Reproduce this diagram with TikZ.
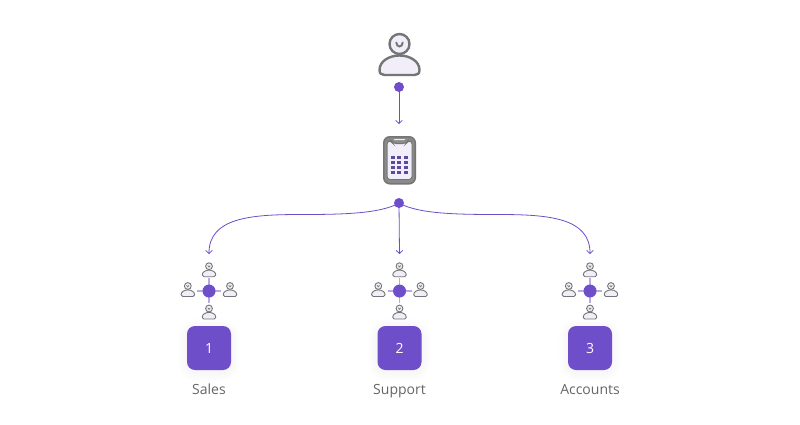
\documentclass[tikz,border=0pt]{standalone}
\usepackage{fontspec}
\setmainfont{Open Sans}
\usetikzlibrary{arrows.meta}
\definecolor{brand}{HTML}{6E4FC9}
\definecolor{spoke}{HTML}{B9A9E6}
\definecolor{iconline}{HTML}{757575}
\definecolor{iconband}{HTML}{8C8C8C}
\definecolor{iconfill}{HTML}{F1EEF9}
\definecolor{keys}{HTML}{5B4A9E}
\definecolor{labelgray}{HTML}{666666}
\tikzset{
  x=1pt,y=-1pt,
  dotnode/.style={circle,fill=brand,draw=none,inner sep=0pt,minimum size=#1},
  link/.style={draw=brand,line width=0.8pt,-{Straight Barb[length=3pt,width=6.5pt,line width=0.8pt]}},
  spokeline/.style={draw=spoke,line width=1.2pt},
  squarebox/.style={fill=brand,rounded corners=8pt,minimum size=44pt,inner sep=0pt,text=white,font=\fontsize{14}{16}\selectfont},
  caption/.style={text=labelgray,font=\fontsize{14}{16}\selectfont,inner sep=0pt,anchor=base},
  person/.pic={
    \path[draw=iconline,fill=iconfill,line width=#1,line join=round]
      (-20,26) .. controls (-20,17) and (-10,11.5) .. (0,11.5)
      .. controls (10,11.5) and (20,17) .. (20,26)
      .. controls (20,29.5) and (18,31) .. (15,31) -- (-15,31)
      .. controls (-18,31) and (-20,29.5) .. cycle;
    \path[draw=iconline,fill=iconfill,line width=#1] (0,0) circle (10);
    \path[draw=iconline,line width=#1*0.8,line cap=round]
      (-3.2,-1.5) .. controls (-3,3.8) and (3,3.8) .. (3.2,-1.5);
  }
}
\newcommand{\softshadow}[2]{%
  \foreach \g in {1,...,8}{
    \fill[brand,opacity=0.004,rounded corners=8pt+\g*1.5pt]
      (#1-22-\g*1.2,#2-22-\g*1.2+2) rectangle (#1+22+\g*1.2,#2+22+\g*1.2+2);
  }}
\newcommand{\cluster}[4]{%
  % #1 prefix, #2 x, #3 digit, #4 label
  \softshadow{#2}{348}
  \draw[spokeline] (#2,278) -- (#2,303);
  \draw[spokeline] (#2-12,291) -- (#2+12,291);
  \node[dotnode=13pt] (#1hub) at (#2,291) {};
  \pic[scale=0.34] at (#2,266.2) {person=0.9pt};
  \pic[scale=0.34] at (#2-21.2,286) {person=0.9pt};
  \pic[scale=0.34] at (#2+21,286) {person=0.9pt};
  \pic[scale=0.34] at (#2,308.5) {person=0.9pt};
  \node[squarebox] (#1box) at (#2,348) {#3};
  \node[caption] (#1label) at (#2,394) {#4};
  \coordinate (#1in) at (#2,254);
}
\begin{document}
\begin{tikzpicture}
\path[use as bounding box,fill=white] (0,0) rectangle (800,424);

% top person
\pic at (399.5,44) {person=2.4pt};
\node[dotnode=10pt] (topdot) at (399,87) {};
\coordinate (phonein) at (399,124);
\draw[link] (topdot.center) -- (phonein);

% phone
\draw[draw=iconline,fill=iconband,line width=1.6pt,rounded corners=6pt] (383.8,136.8) rectangle (415.2,183.7);
\draw[draw=iconline,fill=iconfill,line width=1pt,rounded corners=3pt]
  (387,141) -- (391.5,141) -- (393,143.5) -- (406,143.5) -- (407.5,141) -- (412,141)
  -- (412,179.5) -- (387,179.5) -- cycle;
\fill[iconfill,rounded corners=0.6pt] (394,139) rectangle (405,140.2);
\foreach \cx in {392.7,399.3,406.3}{
  \foreach \cy in {157.3,162.3,167.3,172.3}{
    \fill[keys] (\cx-2.1,\cy-1.4) rectangle (\cx+2.1,\cy+1.4);
  }}

\node[dotnode=10pt] (fork) at (399,203) {};

\cluster{a}{209}{1}{Sales}
\cluster{b}{399.5}{2}{Support}
\cluster{c}{590}{3}{Accounts}

\draw[link] (fork.center) .. controls (380,214) and (340,214.5) .. (300,214.5)
   .. controls (250,214.5) and (209,218) .. (ain);
\draw[link] (fork.center) -- (bin);
\draw[link] (fork.center) .. controls (418,214) and (458,214.5) .. (499,214.5)
   .. controls (549,214.5) and (590,218) .. (cin);
\end{tikzpicture}
\end{document}
